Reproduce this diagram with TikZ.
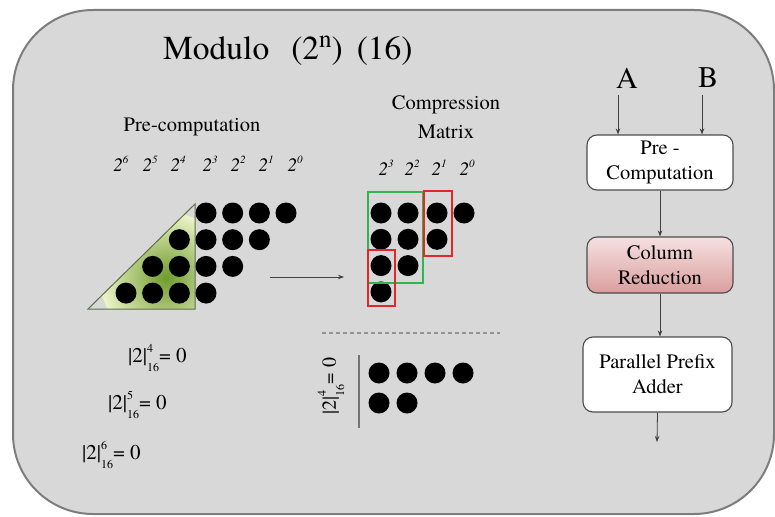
\documentclass[tikz,border=0pt]{standalone}
\usepackage{fontspec}
\setmainfont{TeX Gyre Termes}
\usetikzlibrary{arrows.meta}

\definecolor{panelfill}{RGB}{216,216,216}
\definecolor{panelline}{RGB}{125,125,125}
\definecolor{triDark}{RGB}{112,155,45}
\definecolor{triLight}{RGB}{236,244,200}
\definecolor{triEdge}{RGB}{95,110,70}
\definecolor{grpGreen}{RGB}{50,180,80}
\definecolor{grpRed}{RGB}{225,40,40}
\definecolor{redTop}{RGB}{246,224,224}
\definecolor{redBot}{RGB}{218,158,158}

\newcommand\fsz[2]{\fontsize{#1}{#2}\selectfont}
% italic power of two used as a column heading
\newcommand\pw[1]{\textit{2}\raisebox{0.42em}{\fsz{11}{11}\textit{#1}}}
% |2|^k_16 = 0
\newcommand\modz[1]{|2|\rlap{\raisebox{0.5em}{\fsz{12}{12}#1}}\raisebox{-0.42em}{\fsz{12}{12}16}= 0}

\begin{document}
\begin{tikzpicture}[x=1pt,y=-1pt,
  dot/.style={circle,fill=black,inner sep=0pt,minimum size=21pt},
  pwlabel/.style={font=\fsz{19}{19},inner sep=0pt},
  eqn/.style={font=\fsz{21}{21},inner sep=0pt},
  flowbox/.style={draw=black!70,line width=1.1pt,rounded corners=10pt,fill=white,
    align=center,font=\fsz{20.5}{25},minimum width=146pt,inner sep=0pt},
  conn/.style={draw=black!75,line width=0.8pt,-{Stealth[length=6pt,width=4.5pt]}},
  grp/.style={line width=1.6pt}
]
\useasboundingbox (0,0) rectangle (775,516);

% panel
\draw[panelline, fill=panelfill, line width=2pt, rounded corners=80pt]
  (13,10) rectangle (774,514);

% title
\node[anchor=base west, font=\fsz{33.5}{40}, inner sep=0pt] (title) at (163,60)
  {Modulo\hspace{22pt}(2\raisebox{12pt}{\fsz{25}{25}n})\hspace{14pt}(16)};

% ---------- pre-computation ----------
\node[font=\fsz{20.5}{25}] (pclabel) at (192,127) {Pre-computation};
\foreach \e/\x in {6/121,5/150,4/178,3/210,2/238,1/266,0/295}
  \node[pwlabel] (e\e) at (\x,164) {\pw{\e}};

\begin{scope}
  \clip (88,309) -- (195,204) -- (195,309) -- cycle;
  \shade[inner color=triDark, outer color=triLight] (166,278) circle (66);
\end{scope}
\draw[triEdge, line width=1pt] (88,309) -- (195,204) -- (195,309) -- cycle;

\foreach \r/\cs in {1/{3,4,5,6},2/{2,3,4,5},3/{1,2,3,4},4/{0,1,2,3}}
  \foreach \c in \cs
    \node[dot] (p\r\c) at ({126+26.67*\c},{213+26.7*(\r-1)}) {};

% move arrow
\coordinate (mvS) at (270,277);
\coordinate (mvE) at (344,277);
\draw[conn] (mvS) -- (mvE);

% ---------- compression matrix ----------
\node[align=center, font=\fsz{20.5}{29}] (cmlabel) at (446,117) {Compression\\Matrix};
\foreach \e/\x in {3/386,2/412,1/439,0/467}
  \node[pwlabel] (c\e) at (\x,168) {\pw{\e}};

\foreach \c/\x/\n in {0/381/4,1/408/3,2/437/2,3/464/1}
  \foreach \r in {1,...,\n}
    \node[dot] (m\c\r) at (\x,{213+26.3*(\r-1)}) {};

\draw[grpGreen, grp] (368,192) rectangle (423,283);
\draw[grpRed, grp] (424,191) rectangle (452,256);
\draw[grpRed, grp] (368,250) rectangle (395,306);

% ---------- reduced rows ----------
\draw[gray!85, line width=1.5pt, dash pattern=on 4pt off 3pt] (322,333) -- (500,333);
\draw[black!55, line width=1.5pt] (359,355) -- (359,428);
\node[eqn, font=\fsz{20}{20}, rotate=90] (rot) at (331,386) {\modz{4}};

\foreach \x [count=\i] in {379,407,435,463}
  \node[dot] (q1\i) at (\x,373) {};
\foreach \x [count=\i] in {379,407}
  \node[dot] (q2\i) at (\x,403) {};

% ---------- modulus identities ----------
\node[eqn, anchor=west] (m4) at (128,358) {\modz{4}};
\node[eqn, anchor=west] (m5) at (108,405) {\modz{5}};
\node[eqn, anchor=west] (m6) at (82,455) {\modz{6}};

% ---------- flow ----------
\node[font=\fsz{30}{30}] (A) at (627,78) {A};
\node[font=\fsz{30}{30}] (B) at (708,78) {B};

\node[flowbox, minimum height=55pt] (pre) at (660,162.5) {Pre -\\Computation};
\node[flowbox, minimum height=56pt, top color=redTop, bottom color=redBot] (col) at (660,265) {Column\\Reduction};
\node[flowbox, minimum height=75pt, minimum width=149pt] (add) at (657.5,374.5) {Parallel Prefix\\Adder};

\coordinate (aIn) at (618,95);
\coordinate (bIn) at (702,95);
\coordinate (out) at (657,442);
\draw[conn] (aIn) -- (aIn |- pre.north);
\draw[conn] (bIn) -- (bIn |- pre.north);
\draw[conn] (pre.south) -- (col.north);
\draw[conn] (col.south) -- (col.south |- add.north);
\draw[conn] (add.south) -- (out);
\end{tikzpicture}
\end{document}
